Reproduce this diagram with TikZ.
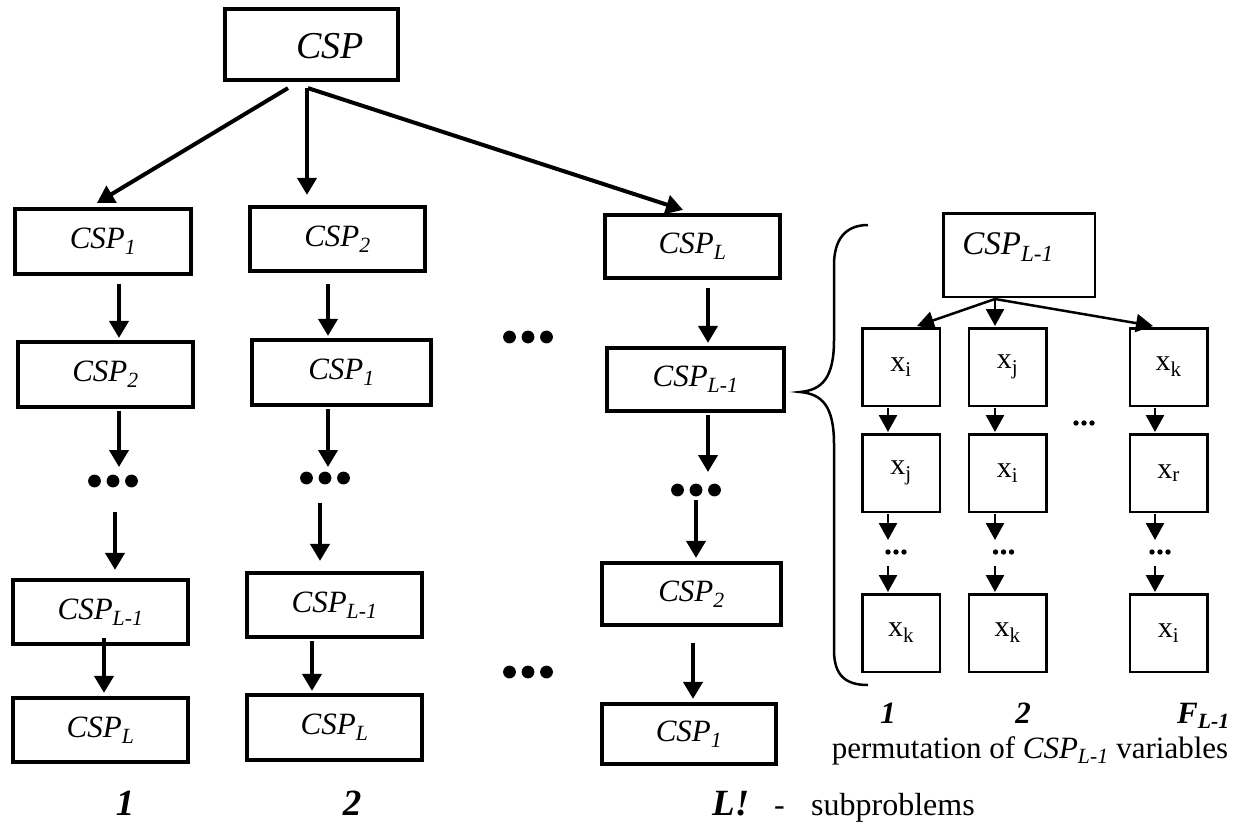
\documentclass[tikz,border=0pt]{standalone}
\usepackage{fontspec}
\setmainfont{Liberation Serif}
\usetikzlibrary{arrows.meta,calc}
\tikzset{
  thickbox/.style={draw, line width=4.2pt, inner sep=0, font=\fontsize{31}{34}\selectfont\itshape},
  thinbox/.style={draw, line width=2.5pt, inner sep=0, minimum width=77.5pt, minimum height=77.5pt, font=\fontsize{30}{32}\selectfont},
  arr/.style={line width=4pt, -{Triangle[length=17pt,width=19pt]}},
  sarr/.style={line width=2.5pt, -{Triangle[length=17pt,width=18pt]}},
  numlab/.style={font=\fontsize{37}{40}\selectfont\bfseries\itshape, anchor=base, inner sep=0},
  smalllab/.style={font=\fontsize{31}{34}\selectfont\bfseries\itshape, anchor=base, inner sep=0},
  plainlab/.style={font=\fontsize{32}{34}\selectfont, anchor=base west, inner sep=0},
}
\newcommand{\bigdots}[1]{\fill ($(#1)+(-18.5,0)$) circle (6.4) (#1) circle (6.4) ($(#1)+(18.5,0)$) circle (6.4);}
\newcommand{\smalldots}[1]{\fill ($(#1)+(-8,0)$) circle (2.7) (#1) circle (2.7) ($(#1)+(8,0)$) circle (2.7);}
\begin{document}
\begin{tikzpicture}[x=1pt,y=-1pt]
\useasboundingbox (0,0) rectangle (1248,823);
% top
\node[thickbox, minimum width=173pt, minimum height=71pt] (top) at (311.5,44.5) {};
\node[font=\fontsize{38}{40}\selectfont\itshape, inner sep=0] (topt) at (330,46) {CSP};
% column 1
\node[thickbox, minimum width=176pt, minimum height=65pt] (A1) at (103,241.5) {CSP\textsubscript{1}};
\node[thickbox, minimum width=175pt, minimum height=65pt] (A2) at (105.5,374.5) {CSP\textsubscript{2}};
\node[thickbox, minimum width=175pt, minimum height=64pt] (A3) at (100.5,612) {CSP\textsubscript{L-1}};
\node[thickbox, minimum width=175pt, minimum height=64pt] (A4) at (100.5,730) {CSP\textsubscript{L}};
\coordinate (d1) at (113,481);
% column 2
\node[thickbox, minimum width=175pt, minimum height=64pt] (B1) at (337.5,239) {CSP\textsubscript{2}};
\node[thickbox, minimum width=179pt, minimum height=65pt] (B2) at (341.5,372.5) {CSP\textsubscript{1}};
\node[thickbox, minimum width=175pt, minimum height=64pt] (B3) at (334.5,605) {CSP\textsubscript{L-1}};
\node[thickbox, minimum width=175pt, minimum height=65pt] (B4) at (334.5,727.5) {CSP\textsubscript{L}};
\coordinate (d2) at (325,478);
% column 3
\node[thickbox, minimum width=175pt, minimum height=63pt] (C1) at (692.5,246.5) {CSP\textsubscript{L}};
\node[thickbox, minimum width=177pt, minimum height=63pt] (C2) at (695.5,379.5) {CSP\textsubscript{L-1}};
\node[thickbox, minimum width=179pt, minimum height=62pt] (C3) at (691.5,594) {CSP\textsubscript{2}};
\node[thickbox, minimum width=174pt, minimum height=60pt] (C4) at (689,734) {CSP\textsubscript{1}};
\coordinate (d3) at (696,490);
\coordinate (m1) at (528,337);
\coordinate (m2) at (528,672);
\bigdots{d1}\bigdots{d2}\bigdots{d3}\bigdots{m1}\bigdots{m2}
% top arrows
\draw[arr] ($(top.south)+(-23.5,6)$) -- ($(A1.north)+(-6,-4)$);
\draw[arr] ($(top.south)+(-4.5,6)$) -- ($(B1.north)+(-30.5,-10)$);
\draw[arr] ($(top.south)+(-3.5,6)$) -- ($(C1.north)+(-9.5,-3)$);
% column 1 arrows
\draw[arr] ($(A1.south)+(16,8)$) -- ($(A2.north)+(13.5,-2)$);
\draw[arr] ($(A2.south)+(13.5,2)$) -- ($(d1)+(6,-14)$);
\draw[arr] ($(d1)+(2,31)$) -- ($(A3.north)+(14.5,-8)$);
\draw[arr] ($(A3.south)+(3.5,-8)$) -- ($(A4.north)+(3.5,-3)$);
% column 2 arrows
\draw[arr] ($(B1.south)+(-9.5,11)$) -- ($(B2.north)+(-13.5,-2)$);
\draw[arr] ($(B2.south)+(-13.5,2)$) -- ($(d2)+(3,-11)$);
\draw[arr] ($(d2)+(-5,25)$) -- ($(B3.north)+(-14.5,-10)$);
\draw[arr] ($(B3.south)+(-22.5,2)$) -- ($(B4.north)+(-22.5,-2)$);
% column 3 arrows
\draw[arr] ($(C1.south)+(15.5,8)$) -- ($(C2.north)+(12.5,-3)$);
\draw[arr] ($(C2.south)+(12.5,2)$) -- ($(d3)+(12,-18)$);
\draw[arr] ($(d3)+(0,10)$) -- ($(C3.north)+(4.5,-3)$);
\draw[arr] ($(C3.south)+(1.5,16)$) -- ($(C4.north)+(4,-3)$);
% brace
\draw[line width=2.5pt] (868,225) .. controls (845,225) and (834,240) .. (834,265)
  -- (834,340) .. controls (834,378) and (822,390) .. (800,392)
  .. controls (822,394) and (834,406) .. (834,444)
  -- (834,650) .. controls (834,675) and (845,685) .. (868,685);
% right panel
\node[draw, line width=2.5pt, inner sep=0, minimum width=151.5pt, minimum height=83.5pt] (Q) at (1019,255) {};
\node[font=\fontsize{33}{35}\selectfont\itshape, inner sep=0] (Qt) at (1008,247) {CSP\textsubscript{L-1}};
\node[thinbox] (X11) at (901,367) {x\textsubscript{i}};
\node[thinbox] (X12) at (1007.5,367) {x\textsubscript{j}};
\node[thinbox] (X13) at (1168.5,367) {x\textsubscript{k}};
\node[thinbox] (X21) at (901,473) {x\textsubscript{j}};
\node[thinbox] (X22) at (1007.5,473) {x\textsubscript{i}};
\node[thinbox] (X23) at (1168.5,473) {x\textsubscript{r}};
\node[thinbox] (X31) at (901,633) {x\textsubscript{k}};
\node[thinbox] (X32) at (1007.5,633) {x\textsubscript{k}};
\node[thinbox] (X33) at (1168.5,633) {x\textsubscript{i}};
\coordinate (e1) at (896,552);
\coordinate (e2) at (1003.5,552);
\coordinate (e3) at (1160,552);
\coordinate (e0) at (1084,423);
\smalldots{e0}\smalldots{e1}\smalldots{e2}\smalldots{e3}
\draw[sarr] ($(Q.south)+(-24,1)$) -- ($(X11.north)+(16,-1)$);
\draw[sarr] ($(Q.south)+(-24,1)$) -- ($(X12.north)+(-12.5,-1)$);
\draw[sarr] ($(Q.south)+(-24,1)$) -- ($(X13.north)+(-15.5,-1)$);
\draw[sarr] ($(X11.south)+(-13,1)$) -- ($(X21.north)+(-13,-1)$);
\draw[sarr] ($(X12.south)+(-12.5,1)$) -- ($(X22.north)+(-12.5,-1)$);
\draw[sarr] ($(X13.south)+(-13.5,1)$) -- ($(X23.north)+(-13.5,-1)$);
\draw[sarr] ($(X21.south)+(-13,1)$) -- ($(e1)+(-8,-12)$);
\draw[sarr] ($(X22.south)+(-12.5,1)$) -- ($(e2)+(-8.5,-12)$);
\draw[sarr] ($(X23.south)+(-13.5,1)$) -- ($(e3)+(-5,-12)$);
\draw[sarr] ($(e1)+(-8,14)$) -- ($(X31.north)+(-13,-1)$);
\draw[sarr] ($(e2)+(-8.5,14)$) -- ($(X32.north)+(-12.5,-1)$);
\draw[sarr] ($(e3)+(-5,14)$) -- ($(X33.north)+(-13.5,-1)$);
% labels
\node[numlab] (n1) at (125,815) {1};
\node[numlab] (n2) at (352,815) {2};
\node[numlab, anchor=base west] (nL) at (712,815) {L!};
\node[plainlab] (dash) at (774,815) {-};
\node[plainlab] (sub) at (811,815) {subproblems};
\node[smalllab] (r1) at (888,723) {1};
\node[smalllab] (r2) at (1023,723) {2};
\node[smalllab, anchor=base west] (rF) at (1177,723) {F\textsubscript{L-1}};
\node[font=\fontsize{31}{34}\selectfont, anchor=base, inner sep=0] (perm) at (1030,758) {permutation of \textit{CSP\textsubscript{L-1}} variables};
\end{tikzpicture}
\end{document}
